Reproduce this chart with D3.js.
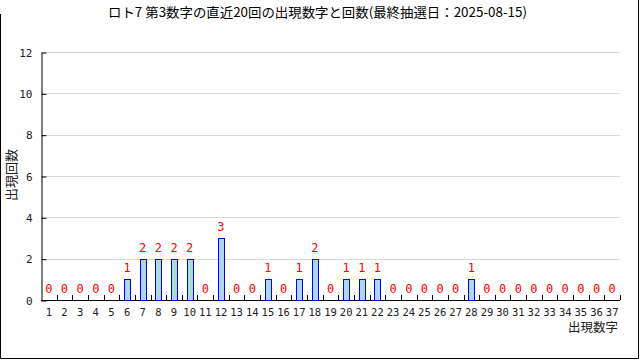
<!DOCTYPE html>
<html lang="ja">
<head>
<meta charset="utf-8">
<title>ロト7 第3数字</title>
<script src="https://d3js.org/d3.v7.min.js"></script>
<style>
  body { margin: 0; background: #fff; }
  svg { display: block; }
</style>
</head>
<body>
<div id="chart"></div>
<script>
// Data
const numbers = d3.range(1, 38).map(String);
const counts = [0, 0, 0, 0, 0, 1, 2, 2, 2, 2, 0, 3, 0, 0, 1, 0, 1, 2, 0, 1, 1, 1, 0, 0, 0, 0, 0, 1, 0, 0, 0, 0, 0, 0, 0, 0, 0];
const yTicks = [0, 2, 4, 6, 8, 10, 12];
const titleText = "ロト7 第3数字の直近20回の出現数字と回数(最終抽選日：2025-08-15)";

const W = 640, H = 360;
const margin = { top: 52, right: 20, bottom: 60, left: 41 };
const numFont = "'DejaVu Sans Mono', monospace";
const jpFont = "'Noto Sans CJK JP', sans-serif";

const svg = d3.select("#chart").append("svg")
  .attr("width", W).attr("height", H);

// Frame (left, bottom, right)
svg.append("path")
  .attr("d", `M0.5,14 V358.5 H638.5 V0`)
  .attr("fill", "none").attr("stroke", "#000");

const x = d3.scaleBand()
  .domain(numbers)
  .range([margin.left, W - margin.right]);

const y = d3.scaleLinear()
  .domain([0, 12])
  .range([H - margin.bottom, margin.top]);

// Grid lines
svg.append("g")
  .selectAll("line")
  .data(yTicks.filter(d => d > 0))
  .join("line")
  .attr("x1", margin.left).attr("x2", W - margin.right)
  .attr("y1", d => Math.round(y(d)) + 0.5).attr("y2", d => Math.round(y(d)) + 0.5)
  .attr("stroke", "#d9d9d9");

// Y axis
const yAxis = svg.append("g")
  .attr("transform", `translate(${margin.left + 0.5},0.5)`)
  .call(d3.axisLeft(y).tickValues(yTicks).tickSizeInner(-5).tickSizeOuter(0).tickPadding(9));
yAxis.select(".domain").attr("stroke", "#000");
yAxis.selectAll(".tick line").attr("stroke", "#000");
yAxis.selectAll(".tick text")
  .attr("font-family", numFont).attr("font-size", 11).attr("fill", "#222");

// X axis: baseline and boundary ticks
const x0 = y(0);
svg.append("line")
  .attr("x1", margin.left).attr("x2", W - margin.right)
  .attr("y1", x0 + 0.5).attr("y2", x0 + 0.5)
  .attr("stroke", "#000");

const bounds = numbers.map(n => x(n)).concat([x(numbers[numbers.length - 1]) + x.bandwidth()]);
svg.append("g")
  .selectAll("line")
  .data(bounds.slice(1))
  .join("line")
  .attr("x1", d => Math.round(d) + 0.5).attr("x2", d => Math.round(d) + 0.5)
  .attr("y1", x0).attr("y2", x0 - 5)
  .attr("stroke", "#000");

svg.append("g")
  .selectAll("text")
  .data(numbers)
  .join("text")
  .attr("x", d => x(d) + x.bandwidth() / 2)
  .attr("y", x0 + 15.5)
  .attr("text-anchor", "middle")
  .attr("font-family", numFont).attr("font-size", 10.5).attr("fill", "#222")
  .text(d => d);

// Bars
const barW = 6;
svg.append("g")
  .selectAll("rect")
  .data(numbers.filter((d, i) => counts[i] > 0))
  .join("rect")
  .attr("x", d => Math.round(x(d) + x.bandwidth() / 2 - barW / 2) + 0.5)
  .attr("y", d => Math.round(y(counts[+d - 1])) + 0.5)
  .attr("width", barW)
  .attr("height", d => Math.round(x0 - y(counts[+d - 1])))
  .attr("fill", "#add8e6")
  .attr("stroke", "#0000ff");

// Value labels
svg.append("g")
  .selectAll("text")
  .data(numbers)
  .join("text")
  .attr("x", d => x(d) + x.bandwidth() / 2)
  .attr("y", d => y(counts[+d - 1]) - 7)
  .attr("text-anchor", "middle")
  .attr("font-family", numFont).attr("font-size", 12).attr("fill", "#ff0000")
  .text(d => counts[+d - 1]);

// Title
svg.append("text")
  .attr("x", 108).attr("y", 17)
  .attr("textLength", 419).attr("lengthAdjust", "spacingAndGlyphs")
  .attr("font-family", jpFont).attr("font-size", 13).attr("fill", "#000")
  .text(titleText);

// Axis titles
svg.append("text")
  .attr("x", 618).attr("y", 332)
  .attr("text-anchor", "end")
  .attr("font-family", jpFont).attr("font-size", 12.5).attr("fill", "#222")
  .text("出現数字");

svg.append("text")
  .attr("transform", `translate(16,175) rotate(-90)`)
  .attr("text-anchor", "middle")
  .attr("font-family", jpFont).attr("font-size", 13).attr("fill", "#222")
  .text("出現回数");
</script>
</body>
</html>
